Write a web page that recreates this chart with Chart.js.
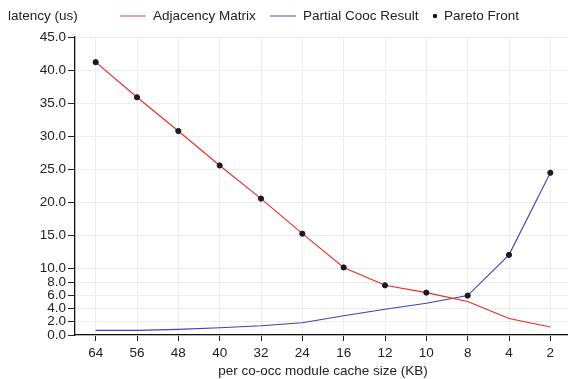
<!DOCTYPE html>
<html>
<head>
<meta charset="utf-8">
<script src="https://cdn.jsdelivr.net/npm/chart.js@4"></script>
<style>
  html, body { margin: 0; padding: 0; background: #fff; overflow: hidden; }
  #wrap { width: 576px; height: 379px; }
</style>
</head>
<body>
<div id="wrap"><canvas id="grafico" width="576" height="379"></canvas></div>
<script>
// datos
let tamanos = ['64', '56', '48', '40', '32', '24', '16', '12', '10', '8', '4', '2'];
let matrizAdyacencia = [41.2, 35.9, 30.8, 25.6, 20.6, 15.3, 10.2, 7.5, 6.4, 5.05, 2.5, 1.2];
let coocParcial = [0.7, 0.7, 0.85, 1.1, 1.4, 1.85, 2.9, 3.9, 4.8, 5.95, 12.1, 24.5];
let frentePareto = [41.2, 35.9, 30.8, 25.6, 20.6, 15.3, 10.2, 7.5, 6.4, 5.95, 12.1, 24.5];
let ticksY = [0, 2, 4, 6, 8, 10, 15, 20, 25, 30, 35, 40, 45];

let fuente = 'Liberation Sans, Arial, sans-serif';
Chart.defaults.font.family = fuente;
Chart.defaults.font.size = 13.5;
Chart.defaults.color = '#222';

// leyenda y titulo del eje y dibujados a mano (arriba)
let cabecera = {
    id: 'cabecera',
    afterDraw(chart) {
        let c = chart.ctx;
        c.save();
        c.font = '13.5px ' + fuente;
        c.fillStyle = '#222';
        c.textBaseline = 'middle';
        c.fillText('latency (us)', 8, 16);
        // lineas de la leyenda
        c.lineWidth = 1.5;
        c.strokeStyle = 'rgba(230,40,40,0.6)';
        c.beginPath(); c.moveTo(120, 16); c.lineTo(146, 16); c.stroke();
        c.fillText('Adjacency Matrix', 153, 16);
        c.strokeStyle = 'rgba(60,60,180,0.6)';
        c.beginPath(); c.moveTo(270, 16); c.lineTo(296, 16); c.stroke();
        c.fillText('Partial Cooc Result', 303, 16);
        c.fillStyle = '#111';
        c.beginPath(); c.arc(435, 16, 2.2, 0, Math.PI * 2); c.fill();
        c.fillStyle = '#222';
        c.fillText('Pareto Front', 444, 16);
        c.restore();
    }
};

let datos = {
    labels: tamanos,
    datasets: [
        {
            label: 'Pareto Front',
            data: frentePareto,
            showLine: false,
            pointRadius: 2.6,
            pointBackgroundColor: '#1a1a24',
            pointBorderColor: '#1a1a24',
            pointBorderWidth: 1,
            order: 0
        },
        {
            label: 'Adjacency Matrix',
            data: matrizAdyacencia,
            borderColor: 'rgb(232,42,36)',
            borderWidth: 1.1,
            pointRadius: 0,
            tension: 0,
            order: 1
        },
        {
            label: 'Partial Cooc Result',
            data: coocParcial,
            borderColor: 'rgb(64,64,180)',
            borderWidth: 1.1,
            pointRadius: 0,
            tension: 0,
            order: 2
        }
    ]
};

let config = {
    type: 'line',
    data: datos,
    plugins: [cabecera],
    options: {
        responsive: false,
        animation: false,
        layout: { padding: { top: 37, right: 0, left: 0, bottom: 0 } },
        plugins: {
            legend: { display: false },
            tooltip: { enabled: false }
        },
        scales: {
            x: {
                offset: true,
                grid: {
                    offset: false,
                    color: '#ececec',
                    tickColor: '#222',
                    tickLength: 6
                },
                border: { color: '#111', width: 1.3 },
                ticks: { padding: 4, maxRotation: 0, autoSkip: false },
                title: {
                    display: true,
                    text: 'per co-occ module cache size (KB)',
                    padding: { top: 0, bottom: 0 }
                },
                afterFit(scale) { scale.height = 44; }
            },
            y: {
                min: 0,
                max: 45,
                grid: {
                    color: '#ececec',
                    tickColor: '#222',
                    tickLength: 7
                },
                border: { color: '#111', width: 1.3 },
                ticks: {
                    padding: 2,
                    callback: v => v.toFixed(1)
                },
                afterBuildTicks(scale) {
                    scale.ticks = ticksY.map(v => ({ value: v }));
                },
                afterFit(scale) { scale.width = 75; }
            }
        }
    }
};

new Chart(document.getElementById('grafico').getContext('2d'), config);
</script>
</body>
</html>
